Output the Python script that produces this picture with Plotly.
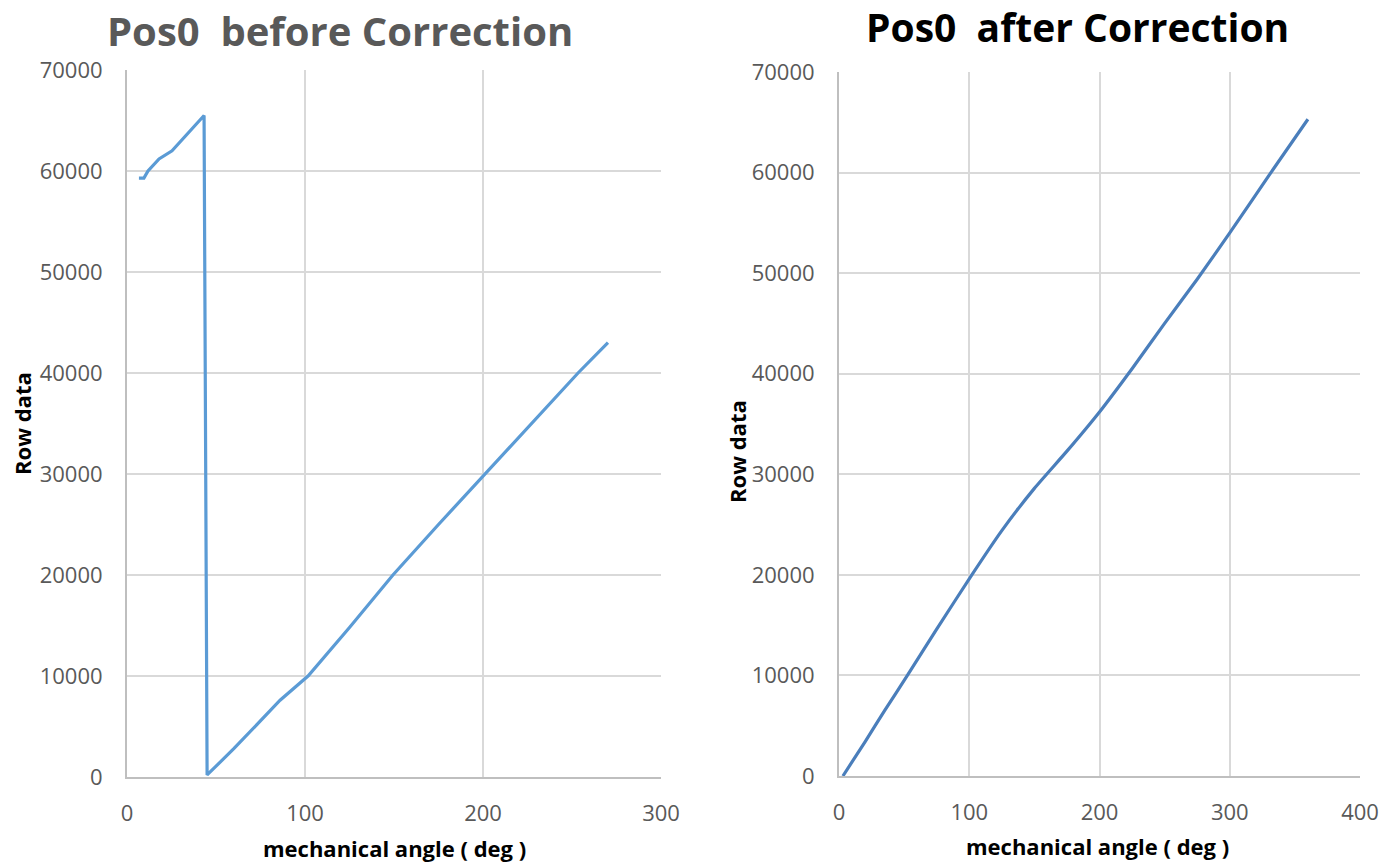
import plotly.graph_objects as go

# Left chart: before correction
left_angle = [6.7, 9.5, 11.8, 18, 25.3, 33, 43.3, 45.0, 60, 86, 101.7, 125, 149.4, 175, 201, 227, 253.4, 270.2]
left_raw = [59300, 59300, 60000, 61200, 62000, 63500, 65500, 200, 2800, 7600, 10000, 14800, 20000, 25000, 30000, 35000, 40000, 43000]

# Right chart: after correction
right_angle = [3, 20, 35, 52.5, 75, 102, 125, 150, 175, 200, 225, 250, 275, 300, 330, 360]
right_raw = [0, 3400, 6500, 10000, 14600, 20000, 24400, 28600, 32300, 36200, 40500, 45000, 49400, 54000, 59700, 65300]

left_title = "Pos0  before Correction"
right_title = "Pos0  after Correction"
x_title = "mechanical angle ( deg )"
y_title = "Row data"

W, H = 1392, 863
FONT = "Open Sans"
GRID = "#d9d9d9"
AXIS = "#bfbfbf"
TICK = "#595959"

fig = go.Figure()
fig.add_trace(go.Scatter(x=left_angle, y=left_raw, mode="lines",
                         line=dict(color="#5B9BD5", width=3.2), xaxis="x", yaxis="y",
                         showlegend=False))
fig.add_trace(go.Scatter(x=right_angle, y=right_raw, mode="lines",
                         line=dict(color="#4A7EBB", width=3.2, shape="spline", smoothing=0.6),
                         xaxis="x2", yaxis="y2", showlegend=False))

def xa(domain, rng, dtick):
    return dict(domain=domain, range=rng, dtick=dtick, tick0=0, showgrid=True,
                gridcolor=GRID, gridwidth=1.5, showline=True, linecolor=AXIS, linewidth=2,
                zeroline=False, ticks="", tickformat="d",
                tickfont=dict(family=FONT, size=22, color=TICK),
                ticklabelstandoff=16, automargin=False, fixedrange=True)

def ya(domain, anchor):
    return dict(domain=domain, range=[0, 70000], dtick=10000, tick0=0, showgrid=True,
                gridcolor=GRID, gridwidth=1.5, showline=True, linecolor=AXIS, linewidth=2,
                zeroline=False, ticks="", tickformat="d",
                tickfont=dict(family=FONT, size=22, color=TICK),
                ticklabelstandoff=18, anchor=anchor, automargin=False, fixedrange=True)

lx = [127 / W, 661 / W]
rx = [839 / W, 1360 / W]
ly = [(H - 777) / H, (H - 70) / H]
ry = [(H - 776) / H, (H - 72) / H]

fig.update_layout(
    width=W, height=H,
    margin=dict(l=0, r=0, t=0, b=0, autoexpand=False),
    paper_bgcolor="white", plot_bgcolor="white",
    xaxis=dict(**xa(lx, [0, 300], 100), anchor="y"),
    yaxis=ya(ly, "x"),
    xaxis2=dict(**xa(rx, [0, 400], 100), anchor="y2"),
    yaxis2=ya(ry, "x2"),
)

ann = []
ann.append(dict(text=f"<b>{left_title}</b>", x=340 / W, y=(H - 31) / H, xref="paper", yref="paper",
                showarrow=False, font=dict(family=FONT, size=40, color="#595959"),
                xanchor="center", yanchor="middle"))
ann.append(dict(text=f"<b>{right_title}</b>", x=1077 / W, y=(H - 27) / H, xref="paper", yref="paper",
                showarrow=False, font=dict(family=FONT, size=39, color="#000000"),
                xanchor="center", yanchor="middle"))
ann.append(dict(text=f"<b>{x_title}</b>", x=394 / W, y=(H - 848) / H, xref="paper", yref="paper",
                showarrow=False, font=dict(family=FONT, size=22, color="#000000"),
                xanchor="center", yanchor="middle"))
ann.append(dict(text=f"<b>{x_title}</b>", x=1097 / W, y=(H - 846) / H, xref="paper", yref="paper",
                showarrow=False, font=dict(family=FONT, size=22, color="#000000"),
                xanchor="center", yanchor="middle"))
ann.append(dict(text=f"<b>{y_title}</b>", x=22 / W, y=(H - 424) / H, xref="paper", yref="paper",
                showarrow=False, textangle=-90, font=dict(family=FONT, size=22, color="#000000"),
                xanchor="center", yanchor="middle"))
ann.append(dict(text=f"<b>{y_title}</b>", x=737 / W, y=(H - 452) / H, xref="paper", yref="paper",
                showarrow=False, textangle=-90, font=dict(family=FONT, size=22, color="#000000"),
                xanchor="center", yanchor="middle"))
fig.update_layout(annotations=ann)

fig.write_html("out.html", config={"displayModeBar": False},
               post_script="document.body.style.margin='0';document.body.style.overflow='hidden';")
